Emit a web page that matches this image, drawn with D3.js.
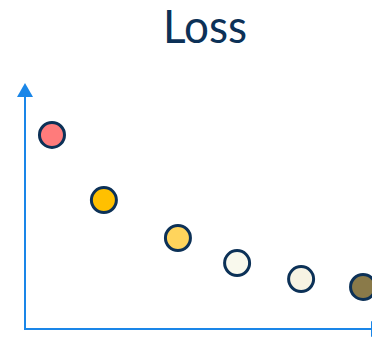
<!DOCTYPE html>
<html>
<head>
<meta charset="utf-8">
<script src="https://cdn.jsdelivr.net/npm/d3@7/dist/d3.min.js"></script>
<style>
  html, body { margin: 0; padding: 0; background: #fff; overflow: hidden; }
  svg { display: block; }
</style>
</head>
<body>
<svg id="chart" width="372" height="337"></svg>
<script>
// Training loss recorded at a handful of steps
const title = "Loss";
const steps = [7.8, 22.8, 44.2, 61.3, 79.8, 97.7];
const losses = [0.789, 0.524, 0.370, 0.268, 0.203, 0.171];
const fills = ["#FF7B7B", "#FFC000", "#FFD45C", "#F9F9ED", "#F7F3E3", "#8A7A49"];

const svg = d3.select("#chart");
const x = d3.scaleLinear().domain([0, 100]).range([25, 371]);
const y = d3.scaleLinear().domain([0, 1]).range([329, 83]);

const axisColor = "#1A86E8";
const ink = "#0C3157";

// Title
svg.append("text")
  .attr("x", 205).attr("y", 43)
  .attr("text-anchor", "middle")
  .attr("font-family", "Lato, 'Open Sans', sans-serif")
  .attr("font-size", 46)
  .attr("textLength", 84)
  .attr("lengthAdjust", "spacingAndGlyphs")
  .attr("fill", ink)
  .text(title);

// Axes with arrowheads
const axes = svg.append("g").attr("stroke", axisColor).attr("fill", axisColor);
axes.append("line")
  .attr("x1", x(0)).attr("y1", y(0))
  .attr("x2", x(0)).attr("y2", y(1) + 13)
  .attr("stroke-width", 2);
axes.append("path")
  .attr("stroke", "none")
  .attr("d", `M${x(0)},${y(1)} L${x(0) - 8},${y(1) + 14} L${x(0) + 8},${y(1) + 14} Z`);
axes.append("line")
  .attr("x1", x(0) - 1).attr("y1", y(0))
  .attr("x2", x(100)).attr("y2", y(0))
  .attr("stroke-width", 2);
axes.append("path")
  .attr("stroke", "none")
  .attr("d", `M${x(100)},${y(0) - 8} L${x(100) + 14},${y(0)} L${x(100)},${y(0) + 8} Z`);

// Points
svg.append("g").selectAll("circle")
  .data(steps.map((s, i) => ({ s, v: losses[i], c: fills[i] })))
  .join("circle")
  .attr("cx", d => x(d.s))
  .attr("cy", d => y(d.v))
  .attr("r", 12.5)
  .attr("fill", d => d.c)
  .attr("stroke", ink)
  .attr("stroke-width", 3);
</script>
</body>
</html>
